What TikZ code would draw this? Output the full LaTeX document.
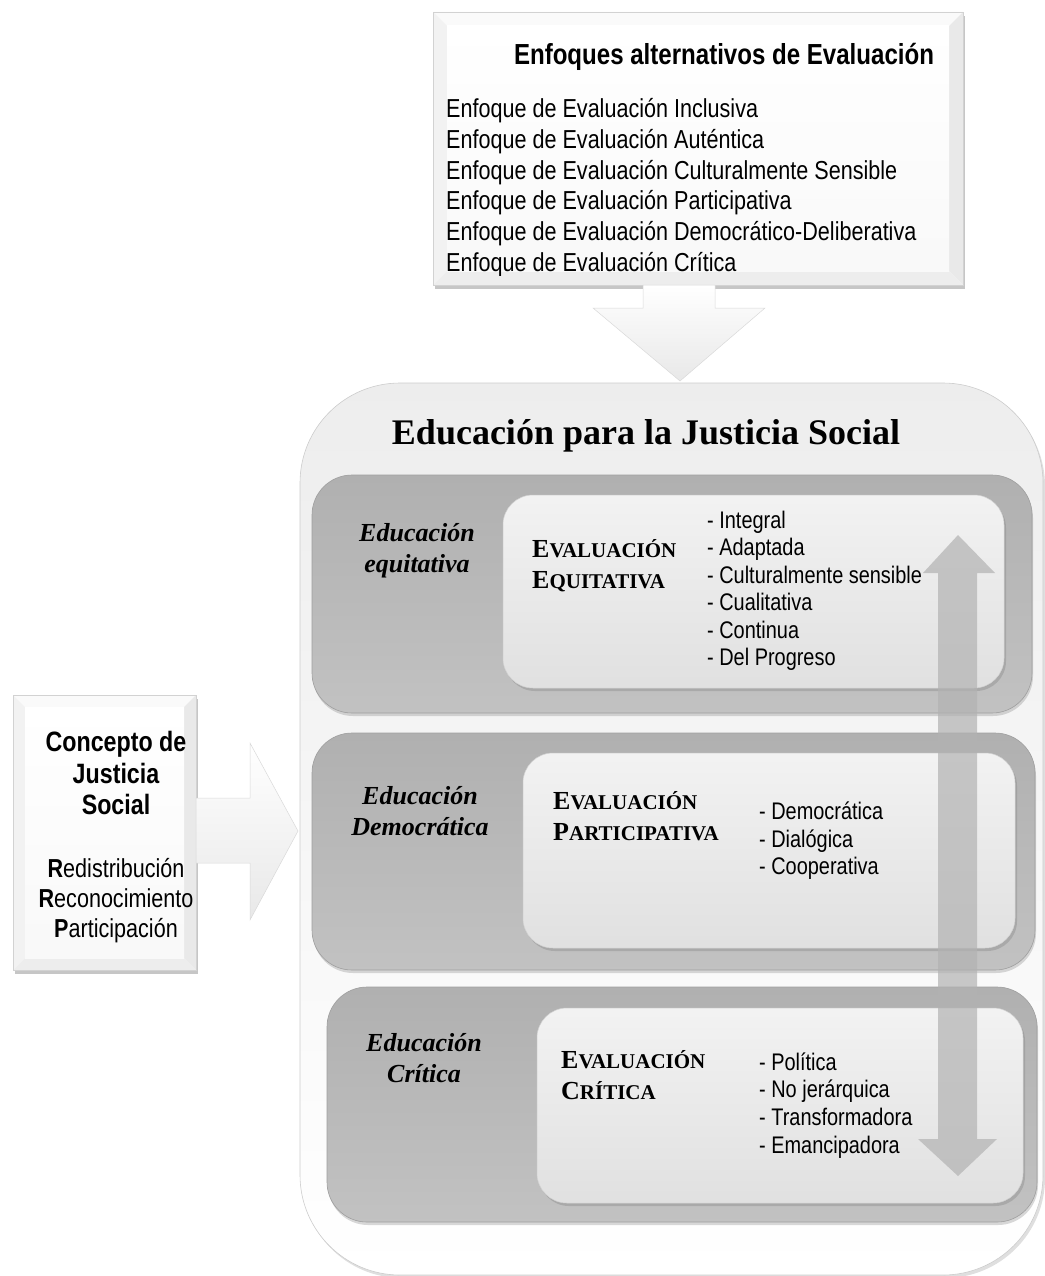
\documentclass[tikz,border=0pt]{standalone}
\usepackage{fontspec}
\setmainfont{Liberation Serif}
\newfontfamily\narrow[FakeStretch=0.83]{Liberation Sans}
\usetikzlibrary{calc,shadows}

\newcommand\bevel[2]{%
  \fill[gray!4] (#1.north west) -- (#1.north east) -- ($(#1.north east)+(-#2,#2)$) -- ($(#1.north west)+(#2,#2)$) -- cycle;
  \fill[gray!10] (#1.north west) -- (#1.south west) -- ($(#1.south west)+(#2,-#2)$) -- ($(#1.north west)+(#2,#2)$) -- cycle;
  \fill[gray!17] (#1.north east) -- (#1.south east) -- ($(#1.south east)+(-#2,-#2)$) -- ($(#1.north east)+(-#2,#2)$) -- cycle;
  \fill[gray!14] (#1.south west) -- (#1.south east) -- ($(#1.south east)+(-#2,-#2)$) -- ($(#1.south west)+(#2,-#2)$) -- cycle;
  \shade[top color=white, bottom color=gray!5] ($(#1.north west)+(#2,#2)$) rectangle ($(#1.south east)+(-#2,-#2)$);
  \draw[gray!35] (#1.north west) rectangle (#1.south east);}
\newcommand\fsc[2]{#1{\fontsize{21}{24}\selectfont #2}}

\tikzset{
  flat/.style={inner sep=0pt, outer sep=0pt},
  boxy/.style={flat, fill=white, drop shadow={opacity=.45, shadow xshift=2pt, shadow yshift=-4pt}},
  panel/.style={flat, draw=gray!40, line width=.6pt, rounded corners=100pt, top color=gray!14, bottom color=white,
    drop shadow={opacity=.25, shadow xshift=2pt, shadow yshift=-3pt}},
  band/.style={flat, draw=gray!75, line width=.6pt, rounded corners=40pt, top color=gray!62, bottom color=gray!48,
    drop shadow={opacity=.3, shadow xshift=1pt, shadow yshift=-3pt}},
  inbox/.style={flat, draw=gray!35, line width=.5pt, rounded corners=30pt, top color=gray!10, bottom color=gray!24,
    drop shadow={opacity=.35, shadow xshift=2pt, shadow yshift=-3pt}},
  blockarrow/.style={top color=white, bottom color=gray!18, draw=gray!30, line width=.5pt},
  head/.style={font=\narrow\bfseries\fontsize{29}{33}\selectfont},
  item/.style={font=\narrow\fontsize{24}{27.5}\selectfont, inner sep=0pt, anchor=base west},
  edu/.style={font=\bfseries\itshape\fontsize{26}{31}\selectfont, align=center, inner sep=0pt},
  evalu/.style={font=\bfseries\fontsize{26}{31}\selectfont, align=left, inner sep=0pt, anchor=base west}
}

\begin{document}
\begin{tikzpicture}[x=1pt, y=-1pt]
\useasboundingbox (0,0) rectangle (1044,1276);

\node[boxy, minimum width=530pt, minimum height=273pt] (enfoques) at (698,148.5) {};
\bevel{enfoques}{14}
\node[head] (enfoques-t) at (724,57) {Enfoques alternativos de Evaluación};
\begin{scope}
  \clip (433,12) rectangle (963,275);
  \foreach \t [count=\i] in {Inclusiva, Auténtica, Culturalmente Sensible, Participativa, Democrático-Deliberativa, Crítica}
    \node[item, font=\narrow\fontsize{26}{30.6}\selectfont] (enf-\i) at (446, 87.4+30.6*\i) {Enfoque de Evaluación \t};
\end{scope}

\node[panel, minimum width=743pt, minimum height=892pt] (ejs) at (671.5,829) {};
\node[font=\bfseries\fontsize{36}{42}\selectfont] (ejs-t) at (646,436) {Educación para la Justicia Social};

\coordinate (dtip) at (680,381);
\path[blockarrow] ($(dtip)+(-37,-96)$) -- ($(dtip)+(-37,-73)$) -- ($(dtip)+(-87,-73)$) -- (dtip)
  -- ($(dtip)+(85,-73)$) -- ($(dtip)+(35,-73)$) -- ($(dtip)+(35,-96)$) -- cycle;

\node[band, minimum width=720pt, minimum height=238pt] (band1) at (672,594) {};
\node[band, minimum width=723pt, minimum height=237pt] (band2) at (673.5,851.5) {};
\node[band, minimum width=710pt, minimum height=235pt] (band3) at (682,1104.5) {};

\node[inbox, minimum width=501pt, minimum height=193pt] (in1) at (753.5,591.5) {};
\node[inbox, minimum width=492pt, minimum height=195pt] (in2) at (769,850.5) {};
\node[inbox, minimum width=486pt, minimum height=195pt] (in3) at (780,1105.5) {};

\node[edu] (edu1) at (417,551) {Educación\\equitativa};
\node[edu] (edu2) at (420,811) {Educación\\Democrática};
\node[edu] (edu3) at (424,1058) {Educación\\Crítica};

\node[evalu] (ev1) at (532,588) {\fsc{E}{VALUACIÓN}\\\fsc{E}{QUITATIVA}};
\node[evalu] (ev2) at (553,840) {\fsc{E}{VALUACIÓN}\\\fsc{P}{ARTICIPATIVA}};
\node[evalu] (ev3) at (561,1099) {\fsc{E}{VALUACIÓN}\\\fsc{C}{RÍTICA}};

\foreach \t [count=\i] in {Integral, Adaptada, Culturalmente sensible, Cualitativa, Continua, Del Progreso}
  \node[item] (eq-\i) at (707, 500.5+27.5*\i) {- \t};
\foreach \t [count=\i] in {Democrática, Dialógica, Cooperativa}
  \node[item] (pa-\i) at (759, 791.5+27.8*\i) {- \t};
\foreach \t [count=\i] in {Política, No jerárquica, Transformadora, Emancipadora}
  \node[item] (cr-\i) at (759, 1042.3+27.7*\i) {- \t};

\coordinate (utip) at (958,535);
\coordinate (btip) at (958,1176);
\fill[gray!60, opacity=.7] (utip) -- ($(utip)+(37,38)$) -- ($(utip)+(19,38)$) -- ($(btip)+(19,-37)$) -- ($(btip)+(39,-37)$)
  -- (btip) -- ($(btip)+(-40,-37)$) -- ($(btip)+(-20,-37)$) -- ($(utip)+(-20,38)$) -- ($(utip)+(-35,38)$) -- cycle;

\node[boxy, minimum width=183pt, minimum height=275pt] (concepto) at (104.5,832.5) {};
\bevel{concepto}{12}
\node[font=\narrow\bfseries\fontsize{28}{31.5}\selectfont, align=center] (concepto-t) at (116,773) {Concepto de\\Justicia\\Social};
\node[font=\narrow\fontsize{26}{30}\selectfont, align=center] (concepto-r) at (116,901) {\textbf{R}edistribución\\\textbf{R}econocimiento\\\textbf{P}articipación};

\coordinate (rtip) at (298,831);
\path[blockarrow] (concepto.east |- 0,798) -- (250,798) -- (250,743) -- (rtip) -- (250,920) -- (250,863) -- (concepto.east |- 0,863) -- cycle;
\end{tikzpicture}
\end{document}
